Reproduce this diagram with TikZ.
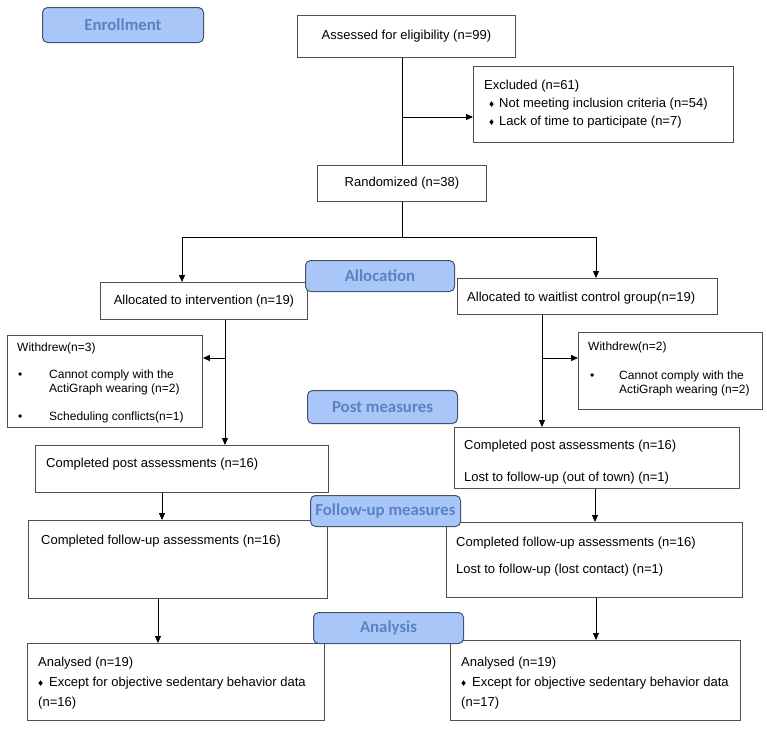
\documentclass[tikz,border=0pt]{standalone}
\usepackage{fontspec}
\setmainfont{Liberation Sans}
\newfontfamily\stagefont{Carlito}
\usetikzlibrary{arrows.meta}
\definecolor{sblue}{HTML}{A9C6F8}
\definecolor{stext}{HTML}{5A82C2}
\definecolor{sedge}{HTML}{46526B}
\definecolor{bgray}{HTML}{505050}
\newcommand{\dmd}{{\fontsize{10}{10}\selectfont\raisebox{0.5pt}{♦}}}

\begin{document}
\begin{tikzpicture}[x=1pt, y=-1pt,
  frame/.style={draw=bgray, line width=0.9pt, fill=white, inner sep=0pt, anchor=north west,
    font=\fontsize{13}{15}\selectfont},
  txt/.style={font=\fontsize{13}{15}\selectfont, anchor=north west, inner sep=0pt, align=left},
  small/.style={txt, font=\fontsize{12}{14}\selectfont},
  stage/.style={draw=sedge, fill=sblue, rounded corners=5pt, line width=1pt, inner sep=0pt,
    anchor=north west, text=stext, font=\stagefont\bfseries\fontsize{16.8}{20}\selectfont},
  flow/.style={-{Triangle[length=7pt,width=6pt]}, line width=0.9pt}]
\useasboundingbox (0,0) rectangle (767,729);

% enrollment
\node[frame, minimum width=218pt, minimum height=42pt] (assess) at (297,15) {Assessed for eligibility (n=99)};
\node[frame, minimum width=260pt, minimum height=76pt] (excl) at (473,66) {};
\node[txt] (excltxt) at (484,80) {Excluded (n=61)\\[3pt]
  \makebox[15pt][c]{\dmd}Not meeting inclusion criteria (n=54)\\[3pt]
  \makebox[15pt][c]{\dmd}Lack of time to participate (n=7)};
\node[frame, minimum width=169pt, minimum height=36pt] (rand) at (317,165) {Randomized (n=38)};

% allocation
\node[frame, minimum width=207pt, minimum height=37pt] (interv) at (100,282) {Allocated to intervention (n=19)};
\node[frame, minimum width=260pt, minimum height=36pt] (wait) at (457,278) {};
\node[txt] (waittxt) at (467,292) {Allocated to waitlist control group(n=19)};
\node[frame, minimum width=195pt, minimum height=92pt] (wdL) at (7,335) {};
\node[small] (wdLtxt) at (17,343) {Withdrew(n=3)\\[13pt]
  \makebox[32pt][l]{\hspace{1pt}•}Cannot comply with the\\
  \hspace*{32pt}ActiGraph wearing (n=2)\\[14pt]
  \makebox[32pt][l]{\hspace{1pt}•}Scheduling conflicts(n=1)};
\node[frame, minimum width=184pt, minimum height=77pt] (wdR) at (578,332) {};
\node[small] (wdRtxt) at (588,342) {Withdrew(n=2)\\[15pt]
  \makebox[31pt][l]{\hspace{2pt}•}Cannot comply with the\\
  \hspace*{31pt}ActiGraph wearing (n=2)};

% post measures
\node[frame, minimum width=293pt, minimum height=47pt] (cpL) at (35,445) {};
\node[txt] (cpLtxt) at (46,458) {Completed post assessments (n=16)};
\node[frame, minimum width=285pt, minimum height=61pt] (cpR) at (454,427) {};
\node[txt] (cpRtxt) at (464,440) {Completed post assessments (n=16)\\[17pt]
  Lost to follow-up (out of town) (n=1)};

% follow-up measures
\node[frame, minimum width=299pt, minimum height=78pt] (fuL) at (28,520) {};
\node[txt] (fuLtxt) at (41,535) {Completed follow-up assessments (n=16)};
\node[frame, minimum width=296pt, minimum height=75pt] (fuR) at (446,522) {};
\node[txt] (fuRtxt) at (456,537) {Completed follow-up assessments (n=16)\\[12pt]
  Lost to follow-up (lost contact) (n=1)};

% analysis
\node[frame, minimum width=297pt, minimum height=77pt] (anL) at (27,643) {};
\node[txt] (anLtxt) at (38,657) {Analysed (n=19)\\[5pt]
  \makebox[11pt][l]{\dmd}Except for objective sedentary behavior data\\[5pt]
  (n=16)};
\node[frame, minimum width=290pt, minimum height=80pt] (anR) at (450,640) {};
\node[txt] (anRtxt) at (461,657) {Analysed (n=19)\\[5pt]
  \makebox[11pt][l]{\dmd}Except for objective sedentary behavior data\\[5pt]
  (n=17)};

% connectors
\coordinate (spine) at (402,117);
\coordinate (split) at (402,237);
\coordinate (splitL) at (182,237);
\coordinate (splitR) at (596,237);
\coordinate (trunkL) at (225,358);
\coordinate (trunkR) at (542,358);
\coordinate (colL1) at (162,0);
\coordinate (colR1) at (595,0);
\coordinate (colL2) at (158,0);
\coordinate (colR2) at (596,0);
\draw[line width=0.9pt] (assess.south -| spine) -- (rand.north -| spine);
\draw[flow] (spine) -- (spine -| excl.west);
\draw[line width=0.9pt] (rand.south -| split) -- (split);
\draw[line width=0.9pt] (splitL) -- (splitR);
\draw[flow] (splitL) -- (splitL |- interv.north);
\draw[flow] (splitR) -- (splitR |- wait.north);
\draw[flow] (interv.south -| trunkL) -- (cpL.north -| trunkL);
\draw[flow] (trunkL) -- (trunkL -| wdL.east);
\draw[flow] (wait.south -| trunkR) -- (cpR.north -| trunkR);
\draw[flow] (trunkR) -- (trunkR -| wdR.west);
\draw[flow] (cpL.south -| colL1) -- (fuL.north -| colL1);
\draw[flow] (cpR.south -| colR1) -- (fuR.north -| colR1);
\draw[flow] (fuL.south -| colL2) -- (anL.north -| colL2);
\draw[flow] (fuR.south -| colR2) -- (anR.north -| colR2);

% stage labels
\node[stage, minimum width=161pt, minimum height=35pt] (enroll) at (42,7) {Enrollment};
\node[stage, minimum width=149pt, minimum height=31pt] (allocate) at (305,260) {Allocation};
\node[stage, minimum width=150pt, minimum height=33pt] (post) at (307,390) {Post measures};
\node[stage, minimum width=150pt, minimum height=31pt] (follow) at (310,495) {Follow-up measures};
\node[stage, minimum width=150pt, minimum height=31pt] (analysis) at (313,612) {Analysis};
\end{tikzpicture}
\end{document}
